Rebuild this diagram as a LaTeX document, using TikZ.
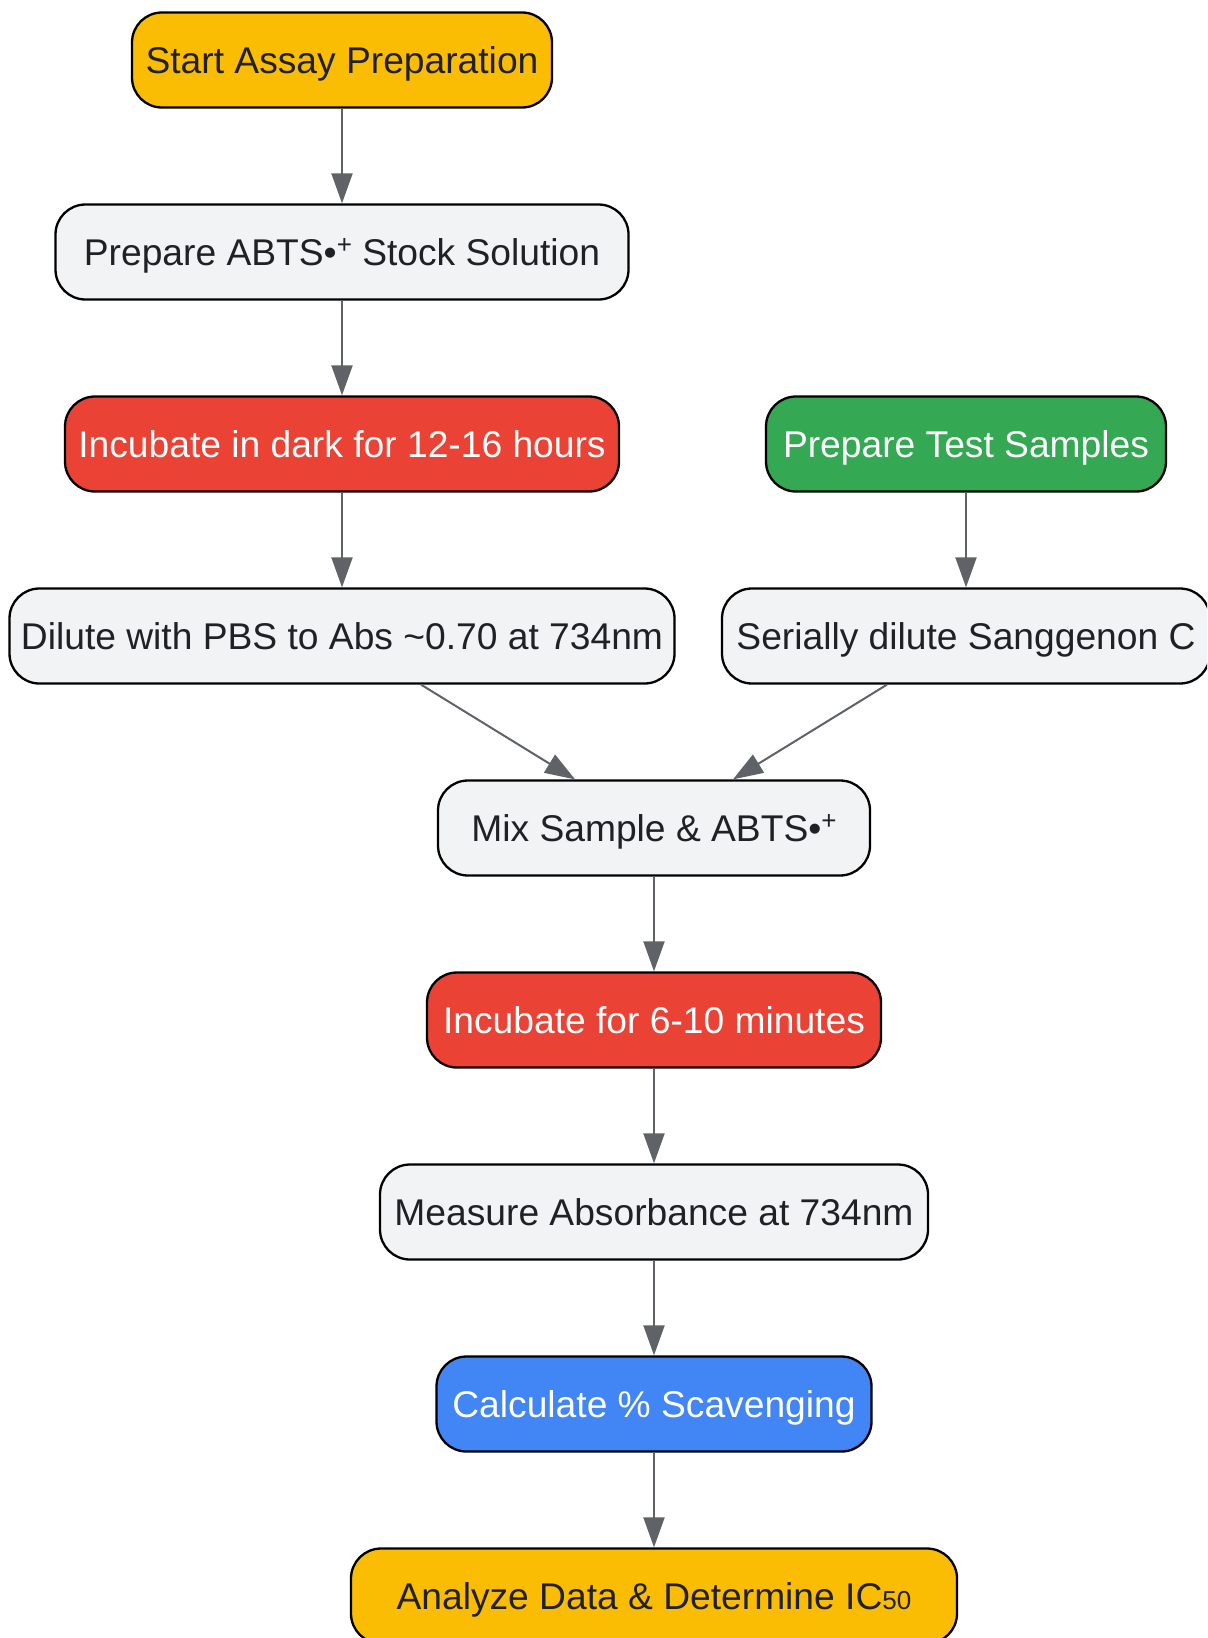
\documentclass[tikz,border=0pt]{standalone}
\usepackage{fontspec}
\setmainfont{Liberation Sans}
\usetikzlibrary{arrows.meta}
\definecolor{cyellow}{HTML}{FBBC04}
\definecolor{cgray}{HTML}{F1F3F4}
\definecolor{cred}{HTML}{EA4335}
\definecolor{cgreen}{HTML}{34A853}
\definecolor{cblue}{HTML}{4285F4}
\definecolor{ctext}{HTML}{202124}
\definecolor{carrow}{HTML}{5F6368}
\newcommand{\abtsrad}{•\raisebox{0.33em}{\fontsize{13pt}{13pt}\selectfont +}}
\begin{document}
\begin{tikzpicture}[x=0.5pt,y=-0.5pt,
  box/.style={draw=black, line width=1.15pt, rounded corners=15pt,
    minimum height=47.5pt, inner xsep=0pt, inner ysep=0pt,
    font=\fontsize{18.6pt}{22pt}\selectfont,
    text height=13.3pt, text depth=0pt},
  graybox/.style={box, fill=cgray, text=ctext},
  yellowbox/.style={box, fill=cyellow, text=ctext},
  redbox/.style={box, fill=cred, text=white},
  greenbox/.style={box, fill=cgreen, text=white},
  bluebox/.style={box, fill=cblue, text=white},
  flow/.style={draw=carrow, line width=1pt, -{Triangle[length=15pt,width=10.5pt]}}
]
\clip (0,0) rectangle (1207,1638);
\fill[white] (0,0) rectangle (1207,1638);

\node[yellowbox, minimum width=210pt] (start) at (342,60) {Start Assay Preparation};
\node[graybox, minimum width=286.5pt] (abts) at (342,252) {Prepare ABTS\abtsrad{} Stock Solution};
\node[redbox, minimum width=277pt] (dark) at (342,444) {Incubate in dark for 12-16 hours};
\node[greenbox, minimum width=200pt] (test) at (966,444) {Prepare Test Samples};
\node[graybox, minimum width=332.5pt] (dilute) at (342,636) {Dilute with PBS to Abs \textasciitilde0.70 at 734nm};
\node[graybox, minimum width=244pt] (serial) at (966,636) {Serially dilute Sanggenon C};
\node[graybox, minimum width=216pt] (mix) at (654,828) {Mix Sample \& ABTS\abtsrad};
\node[redbox, minimum width=227pt] (inc) at (654,1020) {Incubate for 6-10 minutes};
\node[graybox, minimum width=274pt] (meas) at (654,1212) {Measure Absorbance at 734nm};
\node[bluebox, minimum width=217.5pt] (calc) at (654,1404) {Calculate \% Scavenging};
\node[yellowbox, minimum width=303pt] (anal) at (654,1596) {Analyze Data \& Determine IC{\fontsize{13pt}{13pt}\selectfont 50}};

\draw[flow] (start) -- (abts);
\draw[flow] (abts) -- (dark);
\draw[flow] (dark) -- (dilute);
\draw[flow] (test) -- (serial);
\draw[flow] (dilute) -- (mix);
\draw[flow] (serial) -- (mix);
\draw[flow] (mix) -- (inc);
\draw[flow] (inc) -- (meas);
\draw[flow] (meas) -- (calc);
\draw[flow] (calc) -- (anal);
\end{tikzpicture}
\end{document}
